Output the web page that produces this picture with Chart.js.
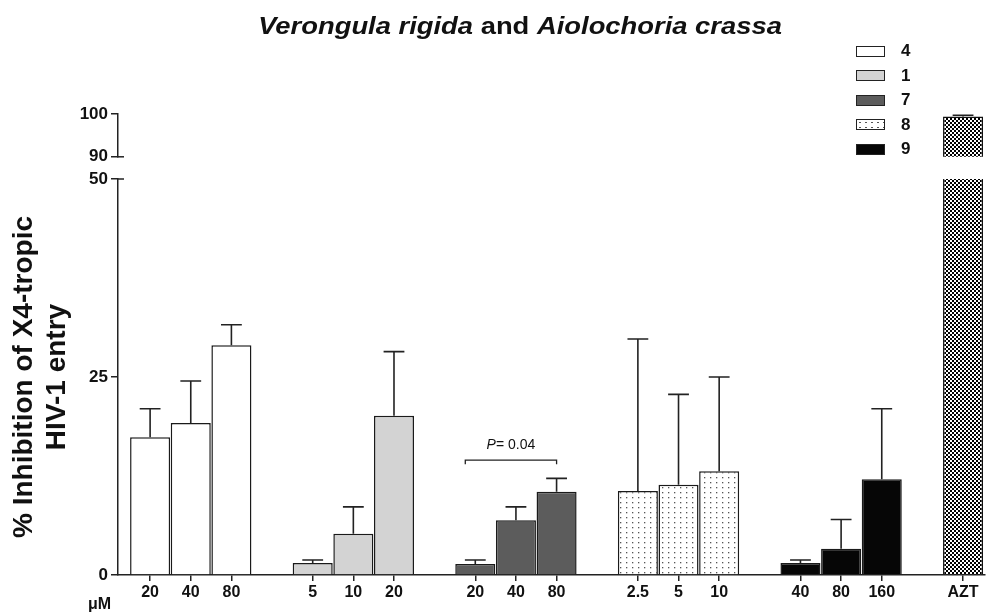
<!DOCTYPE html>
<html>
<head>
<meta charset="utf-8">
<script src="https://cdn.jsdelivr.net/npm/chart.js@4"></script>
<style>
  body { margin: 0; background: #fff; font-family: 'Liberation Sans', Arial, sans-serif; color: #111; }
  #wrap { position: relative; width: 988px; height: 612px; overflow: hidden; }
  canvas { position: absolute; left: 0; top: 0; }
  #title { position: absolute; top: 13px; left: 100px; width: 840px; text-align: center; font-weight: bold; font-size: 23px; transform: scaleX(1.19); transform-origin: 420px 0; }
  #legend { position: absolute; left: 856px; top: 39px; }
  .row { display: flex; align-items: center; height: 24.5px; }
  .sw { width: 27px; height: 9px; border: 1.5px solid #222; }
  .lab { margin-left: 16px; font-weight: bold; font-size: 17px; }
  #um { position: absolute; left: 88px; top: 595px; font-weight: bold; font-size: 16px; }
</style>
</head>
<body>
<div id="wrap">
  <canvas id="lower" width="988" height="612"></canvas>
  <canvas id="upper" width="988" height="170"></canvas>
  <div id="title"><i>Verongula rigida</i> and <i>Aiolochoria crassa</i></div>
  <div id="legend"></div>
  <div id="um">&mu;M</div>
</div>
<script>
// compounds and doses (uM)
const compounds = ['4', '1', '7', '8', '9'];
const doses = [['20', '40', '80'], ['5', '10', '20'], ['20', '40', '80'], ['2.5', '5', '10'], ['40', '80', '160']];
// % inhibition, mean and upper error
const means = [[17.4, 19.2, 29.0], [1.5, 5.2, 20.1], [1.4, 6.9, 10.5], [10.6, 11.4, 13.1], [1.5, 3.3, 12.1]];
const errs = [[3.6, 5.3, 2.6], [0.4, 3.4, 8.1], [0.5, 1.7, 1.7], [19.2, 11.4, 11.9], [0.4, 3.7, 8.9]];
const aztLabel = 'AZT';
const aztMean = [99.4];
const aztErr = [0.3];
const lowerTicks = [0, 25, 50];
const upperTicks = [90, 100];
const pNote = { from: 8, to: 10, y: 14.5, text: '= 0.04' };

function pattern(w, h, draw) {
  const c = document.createElement('canvas');
  c.width = w; c.height = h;
  const g = c.getContext('2d');
  draw(g);
  return g.createPattern(c, 'repeat');
}
const dots = pattern(6, 5, g => { g.fillStyle = '#fff'; g.fillRect(0, 0, 6, 5); g.fillStyle = '#555'; g.fillRect(2, 2, 1.3, 1.3); });
const checker = pattern(4, 4, g => { g.fillStyle = '#fff'; g.fillRect(0, 0, 4, 4); g.fillStyle = '#000'; g.fillRect(0, 0, 2, 2); g.fillRect(2, 2, 2, 2); });
const fills = ['#ffffff', '#d3d3d3', '#5c5c5c', dots, '#060606'];

// slot positions: 3 doses per compound then one empty slot
const slotLabels = {};
compounds.forEach((c, g) => doses[g].forEach((d, i) => { slotLabels[g * 4 + i] = d; }));
slotLabels[20] = aztLabel;
const slots = Object.keys(slotLabels).map(Number);

function makeDatasets() {
  const ds = compounds.map((c, g) => ({
    label: c,
    data: doses[g].map((d, i) => ({ x: g * 4 + i, y: means[g][i] })),
    errors: errs[g],
    backgroundColor: fills[g],
    borderColor: '#1a1a1a',
    borderWidth: 1.5,
    borderSkipped: 'start',
    grouped: false,
    barPercentage: 1,
    categoryPercentage: 0.985
  }));
  ds.push({
    label: aztLabel,
    data: [{ x: 20, y: aztMean[0] }],
    errors: aztErr,
    backgroundColor: checker,
    borderColor: '#111',
    borderWidth: 1.5,
    borderSkipped: 'start',
    grouped: false,
    barPercentage: 1,
    categoryPercentage: 0.985
  });
  return ds;
}

const errorBars = {
  id: 'errorBars',
  afterDatasetsDraw(chart) {
    const { ctx, chartArea: a, scales: { y } } = chart;
    ctx.save();
    ctx.beginPath();
    ctx.rect(a.left, a.top - 2, a.right - a.left, a.bottom - a.top + 2);
    ctx.clip();
    ctx.strokeStyle = '#222';
    ctx.lineWidth = 1.6;
    chart.data.datasets.forEach((ds, di) => {
      chart.getDatasetMeta(di).data.forEach((bar, i) => {
        const top = y.getPixelForValue(ds.data[i].y + ds.errors[i]);
        const half = bar.width * 0.26;
        ctx.beginPath();
        ctx.moveTo(bar.x, bar.y);
        ctx.lineTo(bar.x, top);
        ctx.moveTo(bar.x - half, top);
        ctx.lineTo(bar.x + half, top);
        ctx.stroke();
      });
    });
    ctx.restore();
  }
};

const axisBreak = {
  id: 'axisBreak',
  afterDraw(chart, args, opts) {
    const { ctx, scales: { y } } = chart;
    const py = y.getPixelForValue(opts.value);
    ctx.save();
    ctx.strokeStyle = '#222';
    ctx.lineWidth = 1.5;
    ctx.beginPath();
    ctx.moveTo(y.right - 1, py);
    ctx.lineTo(y.right + 6, py);
    ctx.stroke();
    ctx.restore();
  }
};

const pBracket = {
  id: 'pBracket',
  afterDatasetsDraw(chart) {
    const { ctx, scales: { x, y } } = chart;
    const x1 = x.getPixelForValue(pNote.from), x2 = x.getPixelForValue(pNote.to);
    const py = y.getPixelForValue(pNote.y);
    ctx.save();
    ctx.strokeStyle = '#222';
    ctx.lineWidth = 1.3;
    ctx.beginPath();
    ctx.moveTo(x1 - 10, py + 4);
    ctx.lineTo(x1 - 10, py);
    ctx.lineTo(x2, py);
    ctx.lineTo(x2, py + 4);
    ctx.stroke();
    ctx.fillStyle = '#111';
    ctx.textBaseline = 'alphabetic';
    ctx.font = 'italic 14px "Liberation Sans", Arial';
    const pw = ctx.measureText('P').width;
    ctx.font = '14px "Liberation Sans", Arial';
    const tw = ctx.measureText(pNote.text).width;
    const cx = (x1 - 10 + x2) / 2;
    const sx = cx - (pw + tw) / 2;
    ctx.font = 'italic 14px "Liberation Sans", Arial';
    ctx.fillText('P', sx, py - 11);
    ctx.font = '14px "Liberation Sans", Arial';
    ctx.fillText(pNote.text, sx + pw, py - 11);
    ctx.restore();
  }
};

const tickFont = { family: "'Liberation Sans', Arial, sans-serif", size: 17, weight: 'bold' };

function xScale(show) {
  return {
    type: 'linear',
    display: show,
    min: -0.79,
    max: 20.54,
    offset: false,
    afterBuildTicks: s => { s.ticks = slots.map(v => ({ value: v })); },
    afterFit: s => { if (show) s.height = 37; },
    ticks: { autoSkip: false, maxRotation: 0, padding: 2, color: '#111', font: { ...tickFont, size: 16 },
      callback: v => slotLabels[v] },
    grid: { offset: false, drawOnChartArea: false, tickLength: 6, color: '#222', lineWidth: 1.5 },
    border: { color: '#222', width: 1.5 }
  };
}

function yScale(min, max, ticks, title) {
  return {
    min, max,
    afterBuildTicks: s => { s.ticks = ticks.map(v => ({ value: v })); },
    afterFit: s => { s.width = 118; },
    ticks: { color: '#111', font: tickFont, padding: 3 },
    grid: { drawOnChartArea: false, tickLength: 7, color: '#222', lineWidth: 1.5 },
    border: { color: '#222', width: 1.5 },
    title: title ? {
      display: true,
      text: title,
      color: '#111',
      font: { family: "'Liberation Sans', Arial, sans-serif", size: 28, weight: 'bold', lineHeight: 1.18 },
      padding: { top: 8, bottom: 0 }
    } : { display: false }
  };
}

const common = {
  responsive: false,
  animation: false,
  plugins: { legend: { display: false }, tooltip: { enabled: false } }
};

new Chart(document.getElementById('lower'), {
  type: 'bar',
  data: { datasets: makeDatasets() },
  options: {
    ...common,
    layout: { padding: { top: 179, right: 3, left: 0, bottom: 0 } },
    plugins: { ...common.plugins, axisBreak: { value: 50 } },
    scales: { x: xScale(true), y: yScale(0, 50, lowerTicks, ['% Inhibition of X4-tropic', 'HIV-1 entry']) }
  },
  plugins: [errorBars, axisBreak, pBracket]
});

new Chart(document.getElementById('upper'), {
  type: 'bar',
  data: { datasets: makeDatasets() },
  options: {
    ...common,
    layout: { padding: { top: 114, right: 3, left: 0, bottom: 12 } },
    plugins: { ...common.plugins, axisBreak: { value: 90 } },
    scales: { x: xScale(false), y: yScale(90, 100, upperTicks, null) }
  },
  plugins: [errorBars, axisBreak]
});

// legend
const legend = document.getElementById('legend');
compounds.forEach((c, g) => {
  const row = document.createElement('div');
  row.className = 'row';
  const sw = document.createElement('div');
  sw.className = 'sw';
  if (g === 3) {
    sw.style.background = '#fff radial-gradient(circle, #555 0.7px, transparent 1.1px) 0 0 / 6px 5px';
  } else {
    sw.style.background = fills[g];
  }
  const lab = document.createElement('span');
  lab.className = 'lab';
  lab.textContent = c;
  row.appendChild(sw);
  row.appendChild(lab);
  legend.appendChild(row);
});
</script>
</body>
</html>
